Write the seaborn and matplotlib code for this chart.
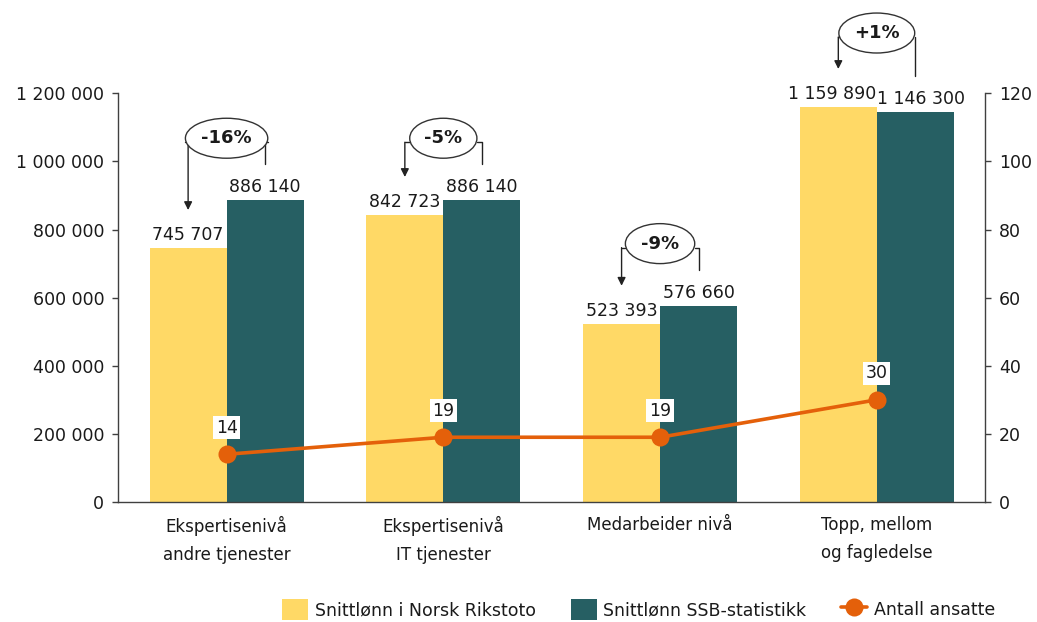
import matplotlib
matplotlib.use("Agg")
import matplotlib.pyplot as plt
import matplotlib.patches as mpatches
from matplotlib.lines import Line2D
from matplotlib.ticker import FuncFormatter
import numpy as np
import pandas as pd
import seaborn as sns

# data
categories = ["Ekspertisenivå\nandre tjenester", "Ekspertisenivå\nIT tjenester",
              "Medarbeider nivå", "Topp, mellom\nog fagledelse"]
rikstoto = [745707, 842723, 523393, 1159890]
ssb = [886140, 886140, 576660, 1146300]
antall = [14, 19, 19, 30]
diff_labels = ["-16%", "-5%", "-9%", "+1%"]

series_names = ["Snittlønn i Norsk Rikstoto", "Snittlønn SSB-statistikk"]
line_name = "Antall ansatte"

YELLOW = "#FFD966"
TEAL = "#265F63"
ORANGE = "#E4600A"
TXT = "#1a1a1a"


def nok(v):
    return f"{int(v):,}".replace(",", " ")


df = pd.DataFrame({
    "kategori": categories * 2,
    "serie": [series_names[0]] * 4 + [series_names[1]] * 4,
    "lonn": rikstoto + ssb,
})

sns.set_theme(style="white")
plt.rcParams["font.family"] = ["DejaVu Sans"]
plt.rcParams["text.color"] = TXT

fig = plt.figure(figsize=(10.37, 6.22), dpi=100)
ax = fig.add_axes([0.114, 0.193, 0.836, 0.657])

sns.barplot(data=df, x="kategori", y="lonn", hue="serie", order=categories,
            hue_order=series_names, palette=[YELLOW, TEAL], width=0.71,
            saturation=1, ax=ax, legend=False, linewidth=0, edgecolor="none")

ax.set_xlim(-0.5, 3.5)
ax.set_ylim(0, 1200000)
ax.set_yticks(np.arange(0, 1200001, 200000))
ax.yaxis.set_major_formatter(FuncFormatter(lambda v, p: nok(v)))
ax.set_xlabel("")
ax.set_ylabel("")
ax.tick_params(axis="y", length=4, width=1, color="#404040", labelsize=12.5, pad=6,
               labelcolor=TXT, left=True)
ax.tick_params(axis="x", length=0, labelsize=12, pad=10, labelcolor=TXT)
for lbl in ax.get_xticklabels():
    lbl.set_linespacing(1.75)
    lbl.set_va("top")
for s in ["top", "right"]:
    ax.spines[s].set_visible(False)
for s in ["left", "bottom"]:
    ax.spines[s].set_color("#404040")
    ax.spines[s].set_linewidth(1)

# value labels on bars
off = 0.71 / 4
px = 1200000 / 409.0  # data units per pixel
dx = 1 / 216.0        # x data units per pixel
for i in range(4):
    nudge = 6 * dx if i == 3 else 0
    ax.text(i - off - nudge, rikstoto[i] + 4 * px, nok(rikstoto[i]),
            ha="center", va="bottom", fontsize=12.5, color=TXT)
    ax.text(i + off + nudge, ssb[i] + 4 * px, nok(ssb[i]),
            ha="center", va="bottom", fontsize=12.5, color=TXT)

# percentage callouts
ell_w = [0.38, 0.31, 0.32, 0.35]
ell_h = 40 * px
for i in range(4):
    top = max(rikstoto[i], ssb[i])
    cy = top + 62 * px
    if i == 3:
        cy = top + 74 * px
    e = mpatches.Ellipse((i, cy), ell_w[i], ell_h, facecolor="white", edgecolor="#333333",
                         linewidth=1, clip_on=False, zorder=5)
    ax.add_patch(e)
    ax.text(i, cy, diff_labels[i], ha="center", va="center", fontsize=13,
            fontweight="bold", zorder=6, clip_on=False)
    hy = cy - 4 * px
    # left elbow with arrow
    ax.plot([i - ell_w[i] / 2, i - off], [hy, hy], color="#222222", lw=1,
            clip_on=False, zorder=4)
    ax.annotate("", xy=(i - off, rikstoto[i] + 38 * px), xytext=(i - off, hy),
                arrowprops=dict(arrowstyle="-|>", color="#222222", lw=1,
                                mutation_scale=12, shrinkA=0, shrinkB=0),
                annotation_clip=False, zorder=4)
    # right elbow
    ax.plot([i + ell_w[i] / 2, i + off, i + off], [hy, hy, ssb[i] + 36 * px],
            color="#222222", lw=1, clip_on=False, zorder=4)

# line on secondary axis
ax2 = ax.twinx()
sns.lineplot(x=np.arange(4), y=antall, ax=ax2, color=ORANGE, linewidth=2.6,
             marker="o", markersize=13, markeredgewidth=0, zorder=5)
ax2.set_ylim(0, 120)
ax2.set_yticks(np.arange(0, 121, 20))
ax2.set_xlim(-0.5, 3.5)
ax2.tick_params(axis="y", length=4, width=1, color="#404040", labelsize=12.5, pad=6,
                labelcolor=TXT, right=True)
for s in ["top", "left", "bottom"]:
    ax2.spines[s].set_visible(False)
ax2.spines["right"].set_color("#404040")
ax2.spines["right"].set_linewidth(1)

for i, v in enumerate(antall):
    ax2.annotate(str(v), xy=(i, v), xytext=(0, 19), textcoords="offset points",
                 ha="center", va="center", fontsize=12.5, color=TXT,
                 bbox=dict(boxstyle="square,pad=0.15", facecolor="white", edgecolor="none"))

handles = [
    mpatches.Patch(facecolor=YELLOW, edgecolor="none"),
    mpatches.Patch(facecolor=TEAL, edgecolor="none"),
    Line2D([0], [0], color=ORANGE, lw=2.6, marker="o", markersize=13, markeredgewidth=0),
]
fig.legend(handles, series_names + [line_name], loc="lower right",
           bbox_to_anchor=(0.975, -0.022), ncol=3, frameon=False, fontsize=12.5,
           handlelength=1.5, handleheight=1.5, columnspacing=2.0, handletextpad=0.4)

fig.savefig("out.png", dpi=100)
